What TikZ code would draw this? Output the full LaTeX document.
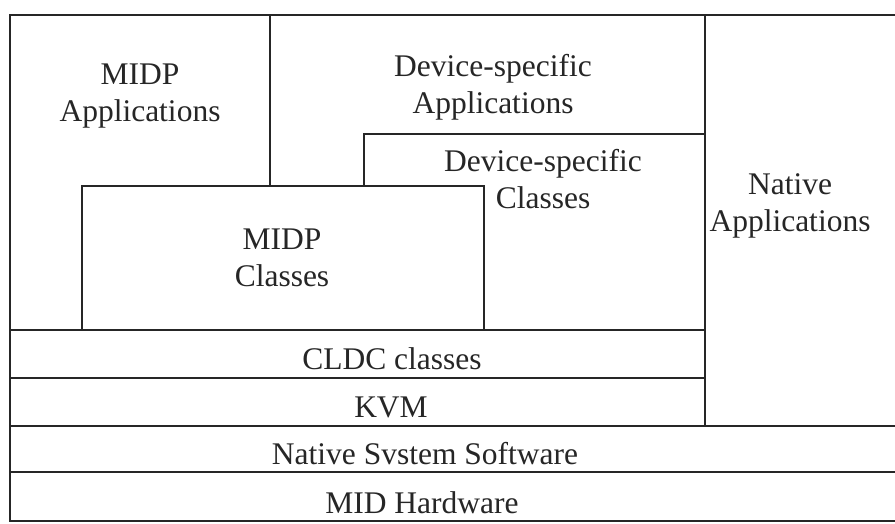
\documentclass[tikz,border=0pt]{standalone}
\usepackage{fontspec}
\setmainfont{Liberation Serif}
\definecolor{ink}{RGB}{38,38,38}
\begin{document}
\begin{tikzpicture}[x=1pt,y=-1pt,
  frame/.style={draw=ink,line width=1.7pt,line cap=rect},
  lbl/.style={font=\fontsize{31.5}{37}\selectfont,text=ink,align=center,inner sep=0pt,anchor=base}]
\useasboundingbox (0,0) rectangle (895,523);
\fill[white] (0,0) rectangle (895,523);
% outer frame (no right border visible)
\draw[frame] (895,15) -- (10,15) -- (10,521) -- (895,521);
% horizontal bands
\draw[frame] (10,330) -- (705,330);
\draw[frame] (10,378) -- (705,378);
\draw[frame] (10,426) -- (895,426);
\draw[frame] (10,472) -- (895,472);
% native applications divider
\draw[frame] (705,15) -- (705,426);
% MIDP applications / device-specific applications divider
\draw[frame] (270,15) -- (270,186);
% device-specific classes box
\draw[frame] (364,186) -- (364,134) -- (705,134);
% MIDP classes box
\draw[frame] (82,330) -- (82,186) -- (484,186) -- (484,330);
% labels (base anchor = baseline of last line)
\node[lbl] (midpapp) at (140,121) {MIDP\\Applications};
\node[lbl] (devapp) at (493,113) {Device-specific\\Applications};
\node[lbl] (devcls) at (543,208) {Device-specific\\Classes};
\node[lbl] (midpcls) at (282,286) {MIDP\\Classes};
\node[lbl] (native) at (790,231) {Native\\Applications};
\node[lbl] (cldc) at (392,369) {CLDC classes};
\node[lbl] (kvm) at (391,417) {KVM};
\node[lbl] (nss) at (425,464) {Native Svstem Software};
\node[lbl] (midhw) at (422,513) {MID Hardware};
\end{tikzpicture}
\end{document}
